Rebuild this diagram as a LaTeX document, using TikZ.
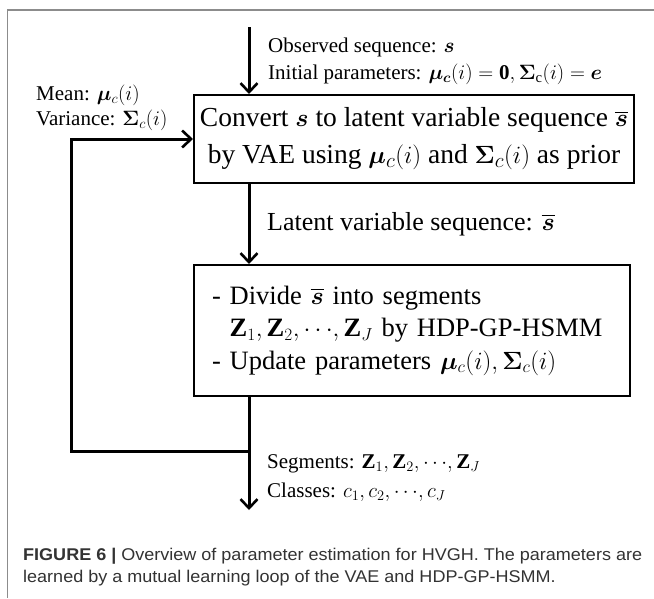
\documentclass[tikz,border=0pt]{standalone}
\usepackage{fontspec}
\setmainfont{Liberation Serif}
\newfontfamily\capfont[FakeStretch=1.06]{Liberation Sans}
\usepackage{amsmath}
\usepackage{bm}
\usetikzlibrary{arrows.meta}
\newcommand\myssbar{\overline{\bm{s}}}
\tikzset{
  frameline/.style={draw=black!45, line width=1.5pt},
  boxstyle/.style={draw=black, line width=2pt, inner sep=0pt},
  flow/.style={draw=black, line width=3pt},
  arr/.style={flow, -{Straight Barb[length=9pt,width=17pt,line width=2.6pt]}},
  lbl/.style={anchor=base west, inner sep=0pt, font=\fontsize{21}{25}\selectfont},
  caplbl/.style={anchor=base west, inner sep=0pt, font=\capfont\fontsize{17}{22}\selectfont, text=black!80}
}
\begin{document}
\begin{tikzpicture}[x=1pt,y=-1pt]
\useasboundingbox (0,0) rectangle (654,598);
\fill[white] (0,0) rectangle (654,598);
% outer frame (top and left)
\draw[frameline] (654,10) -- (7.5,10) -- (7.5,598);

% boxes
\node[boxstyle, minimum width=440pt, minimum height=88pt, align=center,
      font=\fontsize{27.5}{37}\selectfont] (b1) at (414,139)
  {Convert $\bm{s}$ to latent variable sequence $\myssbar$\\
   by VAE using $\bm{\mu}_c(i)$ and $\bm{\Sigma}_c(i)$ as prior};
\node[boxstyle, minimum width=436pt, minimum height=131pt, align=left,
      text width=400pt, font=\fontsize{26.5}{32.5}\selectfont] (b2) at (412,330.5)
  {- Divide $\myssbar$ into segments\\
   \phantom{- }$\mathbf{Z}_1,\mathbf{Z}_2,{\cdots},\mathbf{Z}_J$ by HDP-GP-HSMM\\
   - Update parameters $\bm{\mu}_c(i),\bm{\Sigma}_c(i)$};

% connectors
\coordinate (top) at (249,27);
\coordinate (out) at (249,510);
\coordinate (lp) at (71,451);
\draw[arr] (top) -- (top |- b1.north);
\draw[arr] (b1.south -| top) -- (b2.north -| top);
\draw[arr] (b2.south -| top) -- (out);
\draw[arr] (lp -| top) -- (lp) |- (b1.west);

% labels
\node[lbl] (obs) at (268,52) {Observed sequence: $\bm{s}$};
\node[lbl] (init) at (268,79) {Initial parameters: $\bm{\mu_c}(i)=\mathbf{0},\bm{\Sigma}_{\mathrm{c}}(i)=\bm{e}$};
\node[lbl] (mean) at (36,100) {Mean: $\bm{\mu}_c(i)$};
\node[lbl] (var) at (36,125) {Variance: $\bm{\Sigma}_c(i)$};
\node[lbl, font=\fontsize{26}{30}\selectfont] (lat) at (267,230) {Latent variable sequence: $\myssbar$};
\node[lbl] (seg) at (267,468) {Segments: $\mathbf{Z}_1,\mathbf{Z}_2,{\cdots},\mathbf{Z}_J$};
\node[lbl] (cls) at (267,497) {Classes: $c_1,c_2,{\cdots},c_J$};

% caption
\node[caplbl] (cap1) at (23,560) {\textbf{FIGURE 6 |} Overview of parameter estimation for HVGH. The parameters are};
\node[caplbl] (cap2) at (23,582) {learned by a mutual learning loop of the VAE and HDP-GP-HSMM.};
\end{tikzpicture}
\end{document}
